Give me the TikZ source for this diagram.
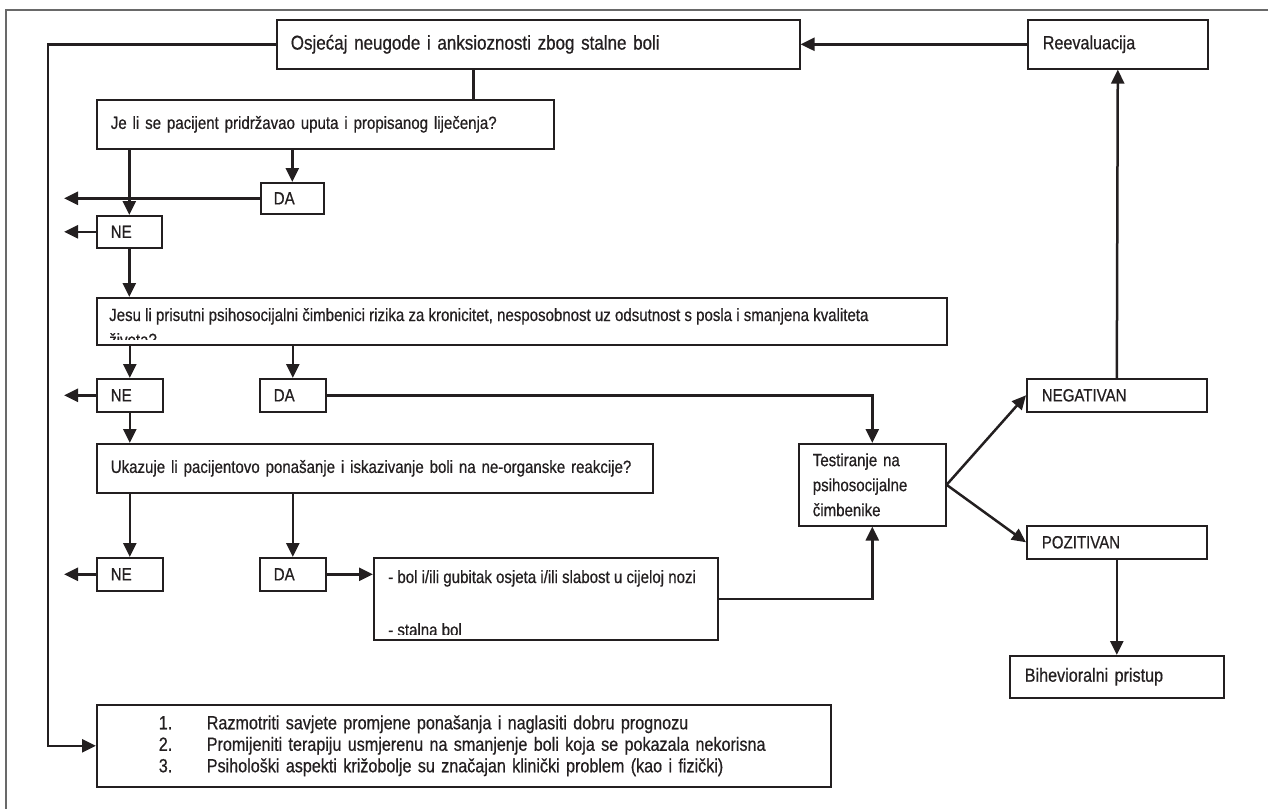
\documentclass[tikz,border=0pt]{standalone}
\usepackage{fontspec}
\setmainfont{Liberation Sans}[FakeStretch=0.85,FakeBold=0.6]
\usetikzlibrary{arrows.meta,positioning}
\definecolor{ink}{RGB}{35,31,32}
\definecolor{framegray}{RGB}{105,105,105}
\newcommand\bigtxt{\fontsize{19}{21.5}\selectfont}
\newcommand\smtxt{\fontsize{17.7}{25}\selectfont}
\tikzset{
  box/.style={draw=ink, line width=1.6pt, anchor=north west, inner xsep=14pt, inner ysep=0pt, align=left, text=ink, font=\smtxt},
  conn/.style={draw=ink, line width=2.5pt},
  arr/.style={conn, -{Triangle[length=14pt,width=13pt]}},
  txt/.style={anchor=base west, inner sep=0pt, text=ink, font=\smtxt}
}
\begin{document}
\begin{tikzpicture}[x=1pt,y=-1pt]
        \useasboundingbox (0,0) rectangle (1269,809);
        \draw[framegray, line width=1.5pt] (1268,10) -- (6,10) -- (6,809);
        %boxes
        \node[box, font=\fontsize{20}{22}\selectfont, text width=495pt, minimum height=49pt] (A) at (276,19) {Osjećaj neugode i anksioznosti zbog stalne boli};
        \node[box, font=\bigtxt, text width=150pt, minimum height=49pt, inner xsep=15pt] (R) at (1027,19) {Reevaluacija};
        \node[box, text width=429pt, minimum height=49pt] (B) at (96,99) {Je li se pacijent pridržavao uputa i propisanog liječenja?};
        \node[box, text width=37pt, minimum height=31pt, inner xsep=13pt] (DA1) at (260,182) {DA};
        \node[box, text width=37pt, minimum height=32pt] (NE1) at (96,215) {NE};
        \node[box, text width=822pt, minimum height=47pt] (C) at (96,297) {};
        \node[box, text width=38pt, minimum height=33pt] (NE2) at (96,378) {NE};
        \node[box, text width=38pt, minimum height=33pt] (DA2) at (259,378) {DA};
        \node[box, text width=528pt, minimum height=49pt] (D) at (96,443) {Ukazuje li pacijentovo ponašanje i iskazivanje boli na ne-organske reakcije?};
        \node[box, text width=38pt, minimum height=33pt] (NE3) at (96,557) {NE};
        \node[box, text width=38pt, minimum height=33pt] (DA3) at (259,557) {DA};
        \node[box, text width=316pt, minimum height=82pt] (E) at (373,557) {};
        \node[box, text width=119pt, minimum height=82pt] (T) at (798,443) {Testiranje na\\psihosocijalne\\čimbenike};
        \node[box, text width=150pt, minimum height=33pt, inner xsep=15pt] (NEG) at (1026,378) {NEGATIVAN};
        \node[box, text width=150pt, minimum height=33pt, inner xsep=15pt] (POZ) at (1026,525) {POZITIVAN};
        \node[box, font=\bigtxt, text width=184pt, minimum height=42pt, inner xsep=15pt] (BIH) at (1009,655) {Bihevioralni pristup};
        \node[box, font=\bigtxt, text width=610pt, minimum height=82pt, inner xsep=62pt] (F) at (96,704) {\makebox[48pt][l]{1.}Razmotriti savjete promjene ponašanja i naglasiti dobru prognozu\\\makebox[48pt][l]{2.}Promijeniti terapiju usmjerenu na smanjenje boli koja se pokazala nekorisna\\\makebox[48pt][l]{3.}Psihološki aspekti križobolje su značajan klinički problem (kao i fizički)};
        %text cut off at the bottom of the box
        \begin{scope}
            \clip (C.north west) rectangle ([yshift=6pt]C.south east);
            \node[txt] (C1) at ([shift={(13pt,-24pt)}]C.north west) {Jesu li prisutni psihosocijalni čimbenici rizika za kronicitet, nesposobnost uz odsutnost s posla i smanjena kvaliteta};
            \node[txt] (C2) at ([shift={(13pt,-49pt)}]C.north west) {života?};
        \end{scope}
        \begin{scope}
            \clip (E.north west) rectangle ([yshift=6pt]E.south east);
            \node[txt] (E1) at ([shift={(15pt,-26pt)}]E.north west) {- bol i/ili gubitak osjeta i/ili slabost u cijeloj nozi};
            \node[txt] (E2) at ([shift={(15pt,-79pt)}]E.north west) {- stalna bol};
        \end{scope}
        %connectors
        \coordinate (rail) at (48,0);
        \coordinate (exit) at (64,0);
        \draw[arr] (R.west) -- (A.east);
        \draw[arr] (A.west) -- (A.west -| rail) -- (rail |- F.west) -- (F.west);
        \draw[conn] ([xshift=-65pt]A.south) -- ([xshift=-65pt]A.south |- B.north);
        \draw[arr] (B.south -| NE1.north) -- (NE1.north);
        \draw[arr] (B.south -| DA1.north) -- (DA1.north);
        \draw[arr] (DA1.west) -- (DA1.west -| exit);
        \draw[arr] (NE1.west) -- (NE1.west -| exit);
        \draw[arr] (NE1.south) -- (NE1.south |- C.north);
        \draw[arr] (C.south -| NE2.north) -- (NE2.north);
        \draw[arr] (C.south -| DA2.north) -- (DA2.north);
        \draw[arr] (NE2.west) -- (NE2.west -| exit);
        \draw[arr] (DA2.east) -- (DA2.east -| T.north) -- (T.north);
        \draw[arr] (NE2.south) -- (NE2.south |- D.north);
        \draw[arr] (D.south -| NE3.north) -- (NE3.north);
        \draw[arr] (D.south -| DA3.north) -- (DA3.north);
        \draw[arr] (NE3.west) -- (NE3.west -| exit);
        \draw[arr] (DA3.east) -- (DA3.east -| E.west);
        \draw[arr] (E.east) -- (E.east -| T.south) -- (T.south);
        \draw[arr] (T.east) -- (NEG.west);
        \draw[arr] (T.east) -- (POZ.west);
        \draw[arr] (NEG.north) -- (R.south);
        \draw[arr] (POZ.south) -- (BIH.north);
    \end{tikzpicture}
\end{document}
